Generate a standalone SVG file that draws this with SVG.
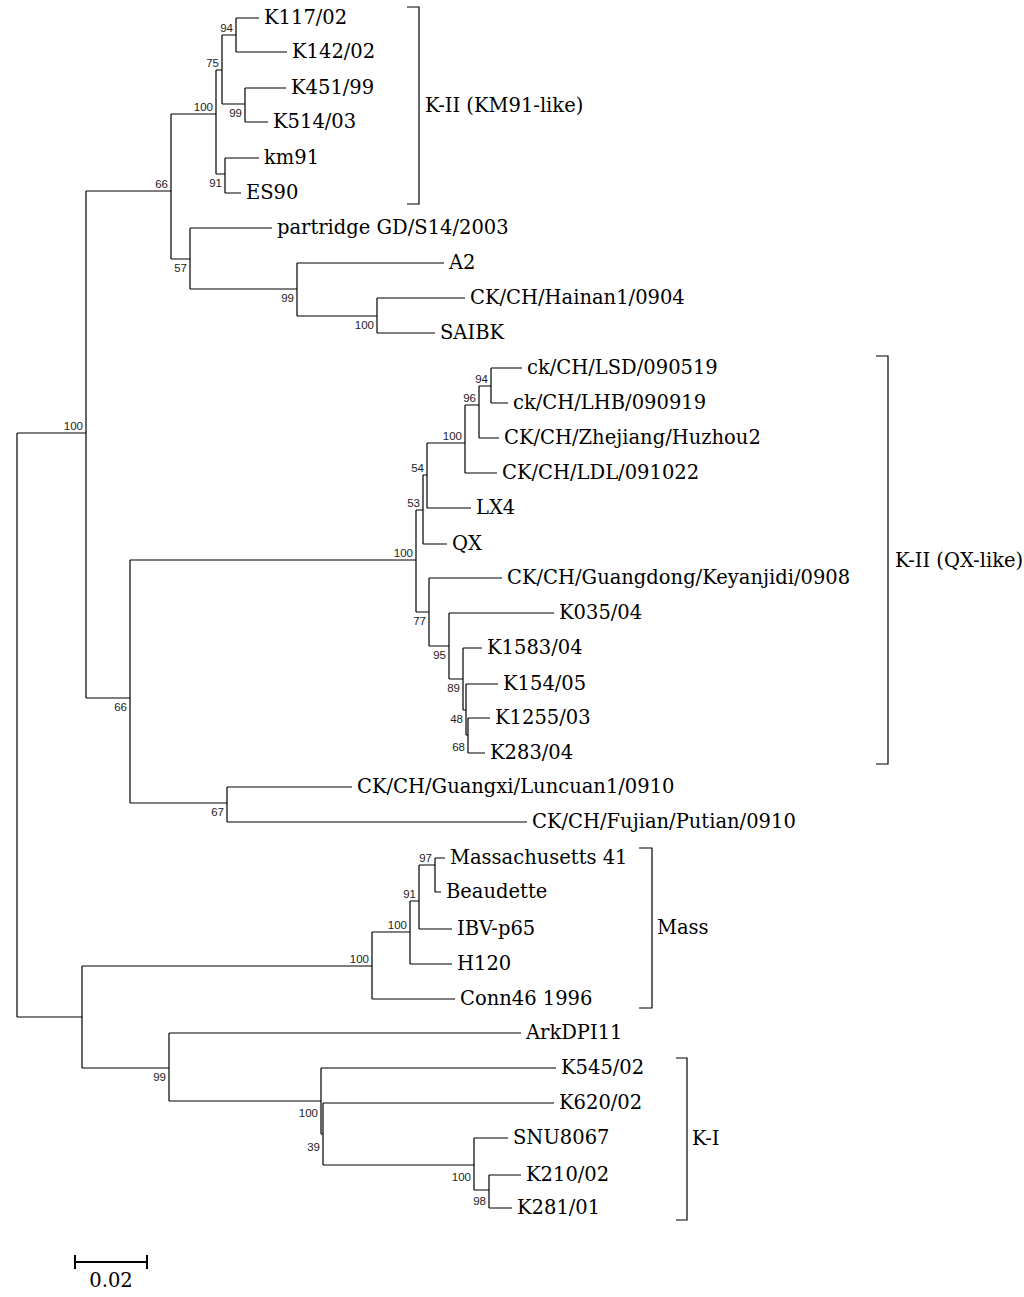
<svg xmlns="http://www.w3.org/2000/svg" width="1024" height="1297" viewBox="0 0 1024 1297">
<style>
.e{fill:none;stroke:#000;stroke-width:1.2}
.t{font-family:"DejaVu Serif","Liberation Serif",serif;font-size:19.5px;fill:#000}
.b{font-family:"Liberation Sans",Arial,sans-serif;font-size:11.5px;fill:#222;text-anchor:end}
</style>
<rect width="1024" height="1297" fill="#fff"/>
<g id="connectors" class="e">
<path d="M17,433V1017M17,433H86M17,1017H82"/>
<path d="M86,191V698M86,191H171M86,698H130"/>
<path d="M171,114V259M171,114H216M171,259H190"/>
<path d="M216,70V174M216,70H222M216,174H225"/>
<path d="M222,35V104M222,35H236M222,104H245"/>
<path d="M236,18V52M236,18H259M236,52H287"/>
<path d="M245,88V122M245,88H286M245,122H268"/>
<path d="M225,158V193M225,158H259M225,193H241"/>
<path d="M190,228V289M190,228H272M190,289H297"/>
<path d="M297,263V316M297,263H444M297,316H377"/>
<path d="M377,298V333M377,298H465M377,333H435"/>
<path d="M130,560V803M130,560H416M130,803H227"/>
<path d="M416,510V612M416,510H423M416,612H429"/>
<path d="M423,475V544M423,475H427M423,544H447"/>
<path d="M427,443V508M427,443H465M427,508H471"/>
<path d="M465,405V473M465,405H479M465,473H497"/>
<path d="M479,386V438M479,386H491M479,438H499"/>
<path d="M491,368V403M491,368H522M491,403H508"/>
<path d="M429,578V646M429,578H502M429,646H449"/>
<path d="M449,613V679M449,613H554M449,679H463"/>
<path d="M463,648V710M463,648H482M463,710H466"/>
<path d="M466,684V735M466,684H498M466,735H468"/>
<path d="M468,718V753M468,718H490M468,753H485"/>
<path d="M227,787V822M227,787H352M227,822H527"/>
<path d="M82,966V1068M82,966H372M82,1068H169"/>
<path d="M372,932V999M372,932H410M372,999H455"/>
<path d="M410,901V964M410,901H419M410,964H452"/>
<path d="M419,865V929M419,865H435M419,929H452"/>
<path d="M435,858V892M435,858H445M435,892H441"/>
<path d="M169,1033V1101M169,1033H521M169,1101H321"/>
<path d="M321,1068V1134M321,1068H556M321,1134H323"/>
<path d="M323,1103V1165M323,1103H554M323,1165H474"/>
<path d="M474,1138V1190M474,1138H508M474,1190H489"/>
<path d="M489,1175V1208M489,1175H521M489,1208H512"/>
<path d="M407,7H419V204H407M876,356H888V764H876M639,848H652V1008H639M676,1058H687V1220H676"/>
<path d="M75,1262H147M75,1255V1269M147,1255V1269" stroke-width="2"/>
</g>
<g id="leaves" class="t">
<text x="264" y="24">K117/02</text>
<text x="292" y="58">K142/02</text>
<text x="291" y="94">K451/99</text>
<text x="273" y="128">K514/03</text>
<text x="264" y="164">km91</text>
<text x="246" y="199">ES90</text>
<text x="277" y="234">partridge GD/S14/2003</text>
<text x="449" y="269">A2</text>
<text x="470" y="304">CK/CH/Hainan1/0904</text>
<text x="440" y="339">SAIBK</text>
<text x="527" y="374">ck/CH/LSD/090519</text>
<text x="513" y="409">ck/CH/LHB/090919</text>
<text x="504" y="444">CK/CH/Zhejiang/Huzhou2</text>
<text x="502" y="479">CK/CH/LDL/091022</text>
<text x="476" y="514">LX4</text>
<text x="452" y="550">QX</text>
<text x="507" y="584">CK/CH/Guangdong/Keyanjidi/0908</text>
<text x="559" y="619">K035/04</text>
<text x="487" y="654">K1583/04</text>
<text x="503" y="690">K154/05</text>
<text x="495" y="724">K1255/03</text>
<text x="490" y="759">K283/04</text>
<text x="357" y="793">CK/CH/Guangxi/Luncuan1/0910</text>
<text x="532" y="828">CK/CH/Fujian/Putian/0910</text>
<text x="450" y="864">Massachusetts 41</text>
<text x="446" y="898">Beaudette</text>
<text x="457" y="935">IBV-p65</text>
<text x="457" y="970">H120</text>
<text x="460" y="1005">Conn46 1996</text>
<text x="526" y="1039">ArkDPI11</text>
<text x="561" y="1074">K545/02</text>
<text x="559" y="1109">K620/02</text>
<text x="513" y="1144">SNU8067</text>
<text x="526" y="1181">K210/02</text>
<text x="517" y="1214">K281/01</text>
<text x="425" y="112">K-II (KM91-like)</text>
<text x="895" y="567">K-II (QX-like)</text>
<text x="657" y="934">Mass</text>
<text x="692" y="1145">K-I</text>
<text x="111" y="1287" text-anchor="middle">0.02</text>
</g>
<g id="bootstrap" class="b">
<text x="83" y="430">100</text>
<text x="168" y="188">66</text>
<text x="213" y="111">100</text>
<text x="219" y="67">75</text>
<text x="233" y="32">94</text>
<text x="242" y="117">99</text>
<text x="222" y="187">91</text>
<text x="187" y="272">57</text>
<text x="294" y="302">99</text>
<text x="374" y="329">100</text>
<text x="127" y="711">66</text>
<text x="413" y="557">100</text>
<text x="420" y="507">53</text>
<text x="424" y="472">54</text>
<text x="462" y="440">100</text>
<text x="476" y="402">96</text>
<text x="488" y="383">94</text>
<text x="426" y="625">77</text>
<text x="446" y="659">95</text>
<text x="460" y="692">89</text>
<text x="463" y="723">48</text>
<text x="465" y="751">68</text>
<text x="224" y="816">67</text>
<text x="369" y="963">100</text>
<text x="407" y="929">100</text>
<text x="416" y="898">91</text>
<text x="432" y="862">97</text>
<text x="166" y="1081">99</text>
<text x="318" y="1117">100</text>
<text x="320" y="1151">39</text>
<text x="471" y="1181">100</text>
<text x="486" y="1205">98</text>
</g>
</svg>
